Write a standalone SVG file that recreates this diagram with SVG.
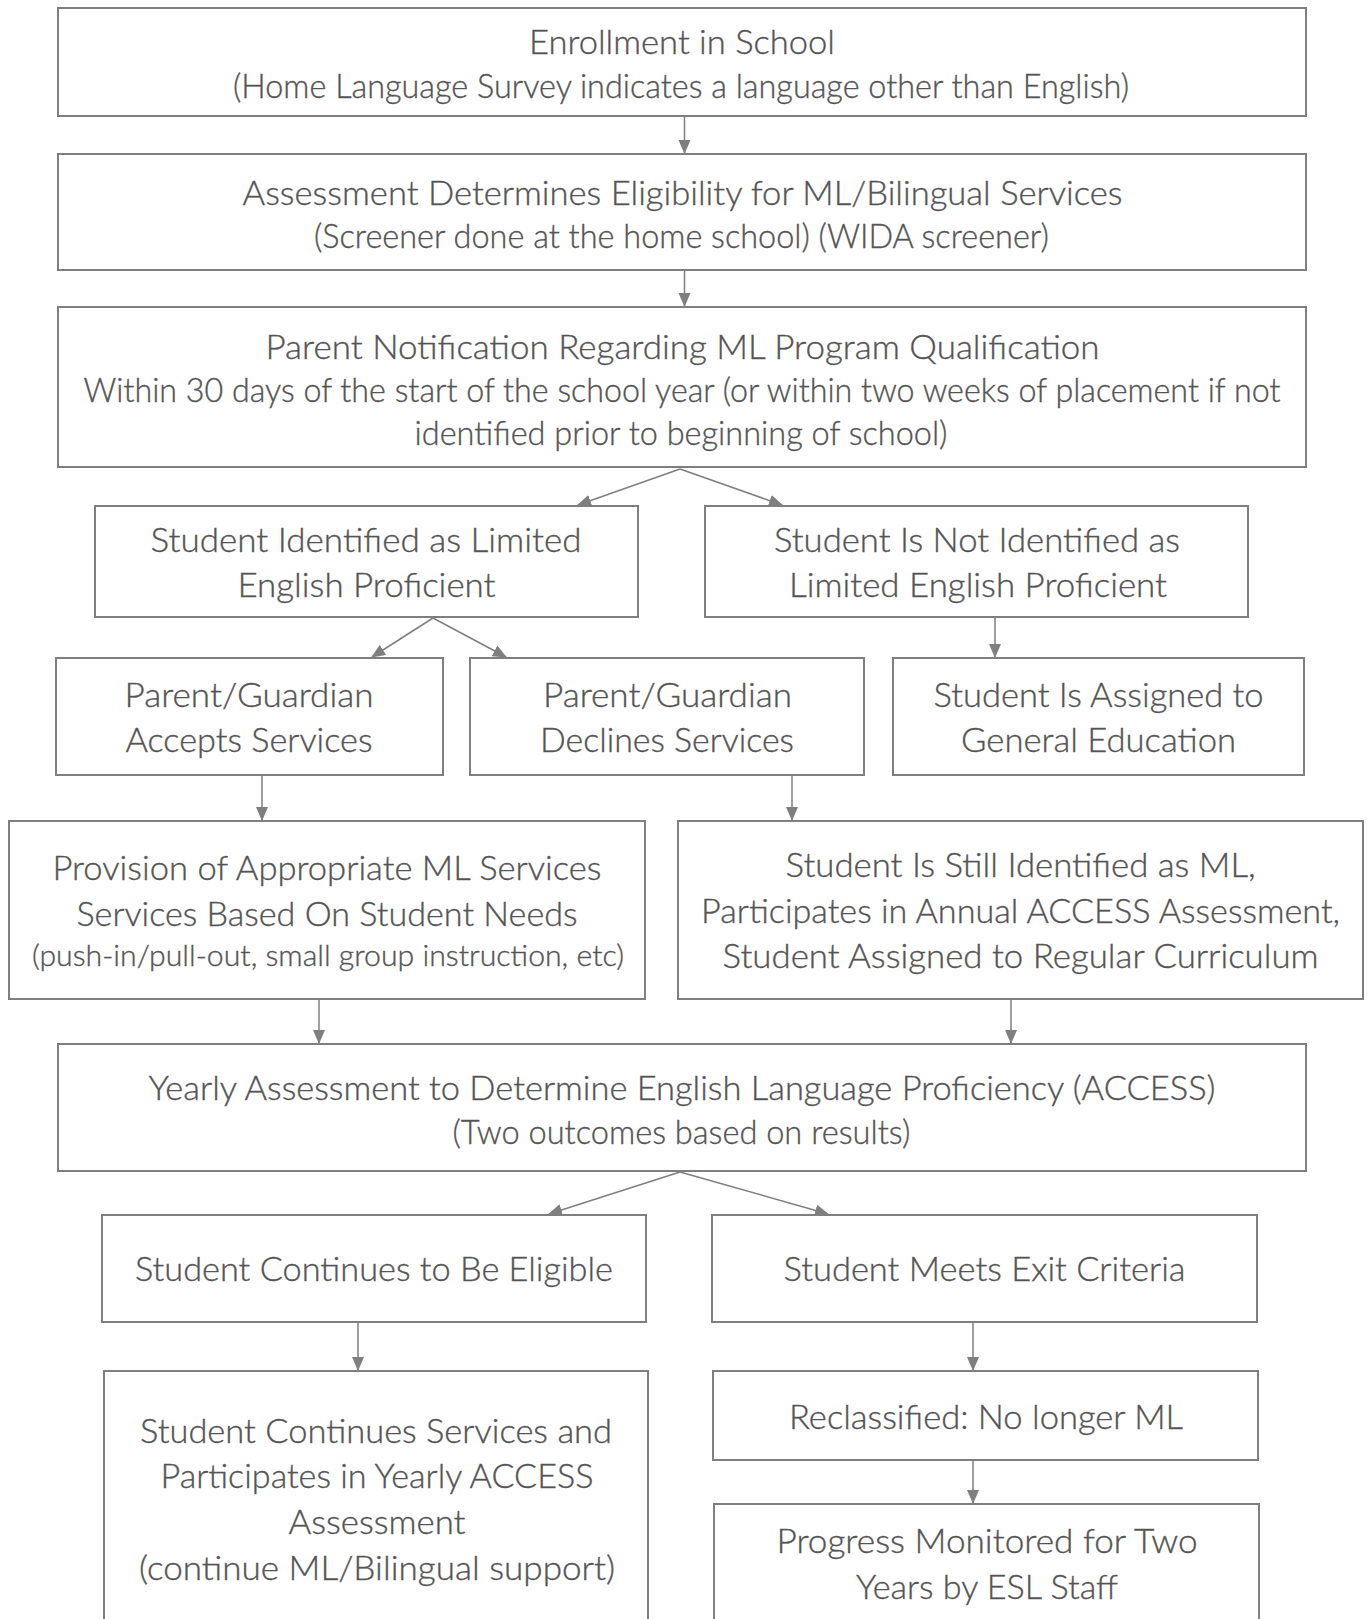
<svg xmlns="http://www.w3.org/2000/svg" width="1367" height="1619" viewBox="0 0 1367 1619">
<defs>
<marker id="ah" markerWidth="14" markerHeight="14" refX="13" refY="7" orient="auto" markerUnits="userSpaceOnUse">
<path d="M0,1 L14,7 L0,13 Z" fill="#7f7f7f"/>
</marker>
<style>
.box{fill:#fff;stroke:#7f7f7f;stroke-width:2}
.t{font-family:Lato,"Open Sans","Liberation Sans",sans-serif;font-weight:300;font-size:33px;fill:#545454;stroke:#545454;stroke-width:0.35;text-anchor:middle}
.s{font-size:30px}
.c{stroke:#7f7f7f;stroke-width:1.5;fill:none;marker-end:url(#ah)}
</style>
</defs>
<rect width="1367" height="1619" fill="#fff"/>
<g id="connectors">
<line class="c" x1="684.5" y1="117" x2="684.5" y2="153"/>
<line class="c" x1="684.5" y1="270" x2="684.5" y2="306"/>
<line class="c" x1="680" y1="469" x2="578" y2="505"/>
<line class="c" x1="680" y1="469" x2="782" y2="505"/>
<line class="c" x1="433" y1="618" x2="372" y2="657"/>
<line class="c" x1="433" y1="618" x2="506" y2="657"/>
<line class="c" x1="995" y1="617" x2="995" y2="657"/>
<line class="c" x1="262" y1="776" x2="262" y2="820"/>
<line class="c" x1="792" y1="776" x2="792" y2="820"/>
<line class="c" x1="319" y1="1000" x2="319" y2="1043"/>
<line class="c" x1="1011" y1="1000" x2="1011" y2="1043"/>
<line class="c" x1="680" y1="1172" x2="549" y2="1214"/>
<line class="c" x1="680" y1="1172" x2="828" y2="1214"/>
<line class="c" x1="358" y1="1323" x2="358" y2="1370"/>
<line class="c" x1="973" y1="1323" x2="973" y2="1370"/>
<line class="c" x1="973" y1="1461" x2="973" y2="1503"/>
</g>
<g id="n1"><rect class="box" x="58" y="8" width="1248" height="108"/>
<text class="t" x="682" y="54" textLength="306" lengthAdjust="spacingAndGlyphs">Enrollment in School</text>
<text class="t" x="681" y="98" textLength="896" lengthAdjust="spacingAndGlyphs">(Home Language Survey indicates a language other than English)</text></g>
<g id="n2"><rect class="box" x="58" y="154" width="1248" height="116"/>
<text class="t" x="682.5" y="205" textLength="880" lengthAdjust="spacingAndGlyphs">Assessment Determines Eligibility for ML/Bilingual Services</text>
<text class="t" x="681.5" y="248" textLength="735" lengthAdjust="spacingAndGlyphs">(Screener done at the home school) (WIDA screener)</text></g>
<g id="n3"><rect class="box" x="58" y="307" width="1248" height="160"/>
<text class="t" x="682.5" y="359" textLength="834" lengthAdjust="spacingAndGlyphs">Parent Notification Regarding ML Program Qualification</text>
<text class="t" x="682" y="402" textLength="1197" lengthAdjust="spacingAndGlyphs">Within 30 days of the start of the school year (or within two weeks of placement if not</text>
<text class="t" x="681" y="445" textLength="533" lengthAdjust="spacingAndGlyphs">identified prior to beginning of school)</text></g>
<g id="n4"><rect class="box" x="95" y="506" width="543" height="111"/>
<text class="t" x="366" y="552" textLength="431" lengthAdjust="spacingAndGlyphs">Student Identified as Limited</text>
<text class="t" x="366.5" y="597" textLength="258" lengthAdjust="spacingAndGlyphs">English Proficient</text></g>
<g id="n5"><rect class="box" x="705" y="506" width="543" height="111"/>
<text class="t" x="977" y="552" textLength="406" lengthAdjust="spacingAndGlyphs">Student Is Not Identified as</text>
<text class="t" x="978" y="597" textLength="378" lengthAdjust="spacingAndGlyphs">Limited English Proficient</text></g>
<g id="n6"><rect class="box" x="56" y="658" width="387" height="117"/>
<text class="t" x="249" y="707" textLength="249" lengthAdjust="spacingAndGlyphs">Parent/Guardian</text>
<text class="t" x="249" y="752" textLength="247" lengthAdjust="spacingAndGlyphs">Accepts Services</text></g>
<g id="n7"><rect class="box" x="470" y="658" width="394" height="117"/>
<text class="t" x="667.5" y="707" textLength="249" lengthAdjust="spacingAndGlyphs">Parent/Guardian</text>
<text class="t" x="667" y="752" textLength="254" lengthAdjust="spacingAndGlyphs">Declines Services</text></g>
<g id="n8"><rect class="box" x="893" y="658" width="411" height="117"/>
<text class="t" x="1098.6" y="707" textLength="330" lengthAdjust="spacingAndGlyphs">Student Is Assigned to</text>
<text class="t" x="1098.6" y="752" textLength="275" lengthAdjust="spacingAndGlyphs">General Education</text></g>
<g id="n9"><rect class="box" x="9" y="821" width="636" height="178"/>
<text class="t" x="327" y="880" textLength="549" lengthAdjust="spacingAndGlyphs">Provision of Appropriate ML Services</text>
<text class="t" x="327" y="926" textLength="501" lengthAdjust="spacingAndGlyphs">Services Based On Student Needs</text>
<text class="t s" x="328" y="966" textLength="592" lengthAdjust="spacingAndGlyphs">(push-in/pull-out, small group instruction, etc)</text></g>
<g id="n10"><rect class="box" x="678" y="821" width="685" height="178"/>
<text class="t" x="1020.6" y="877" textLength="470" lengthAdjust="spacingAndGlyphs">Student Is Still Identified as ML,</text>
<text class="t" x="1020.6" y="923" textLength="639" lengthAdjust="spacingAndGlyphs">Participates in Annual ACCESS Assessment,</text>
<text class="t" x="1020.6" y="968" textLength="596" lengthAdjust="spacingAndGlyphs">Student Assigned to Regular Curriculum</text></g>
<g id="n11"><rect class="box" x="58" y="1044" width="1248" height="127"/>
<text class="t" x="682" y="1100" textLength="1067" lengthAdjust="spacingAndGlyphs">Yearly Assessment to Determine English Language Proficiency (ACCESS)</text>
<text class="t" x="681.4" y="1144" textLength="458" lengthAdjust="spacingAndGlyphs">(Two outcomes based on results)</text></g>
<g id="n12"><rect class="box" x="102" y="1215" width="544" height="107"/>
<text class="t" x="374" y="1281" textLength="478" lengthAdjust="spacingAndGlyphs">Student Continues to Be Eligible</text></g>
<g id="n13"><rect class="box" x="712" y="1215" width="545" height="107"/>
<text class="t" x="984.5" y="1281" textLength="402" lengthAdjust="spacingAndGlyphs">Student Meets Exit Criteria</text></g>
<g id="n14"><rect class="box" x="104" y="1371" width="544" height="270"/>
<text class="t" x="376" y="1443" textLength="472" lengthAdjust="spacingAndGlyphs">Student Continues Services and</text>
<text class="t" x="377" y="1488" textLength="433" lengthAdjust="spacingAndGlyphs">Participates in Yearly ACCESS</text>
<text class="t" x="377" y="1534" textLength="177" lengthAdjust="spacingAndGlyphs">Assessment</text>
<text class="t" x="377" y="1580" textLength="476" lengthAdjust="spacingAndGlyphs">(continue ML/Bilingual support)</text></g>
<g id="n15"><rect class="box" x="713" y="1371" width="545" height="89"/>
<text class="t" x="986" y="1429" textLength="394" lengthAdjust="spacingAndGlyphs">Reclassified: No longer ML</text></g>
<g id="n16"><rect class="box" x="714" y="1504" width="545" height="140"/>
<text class="t" x="987" y="1553" textLength="421" lengthAdjust="spacingAndGlyphs">Progress Monitored for Two</text>
<text class="t" x="987" y="1599" textLength="262" lengthAdjust="spacingAndGlyphs">Years by ESL Staff</text></g>
</svg>
